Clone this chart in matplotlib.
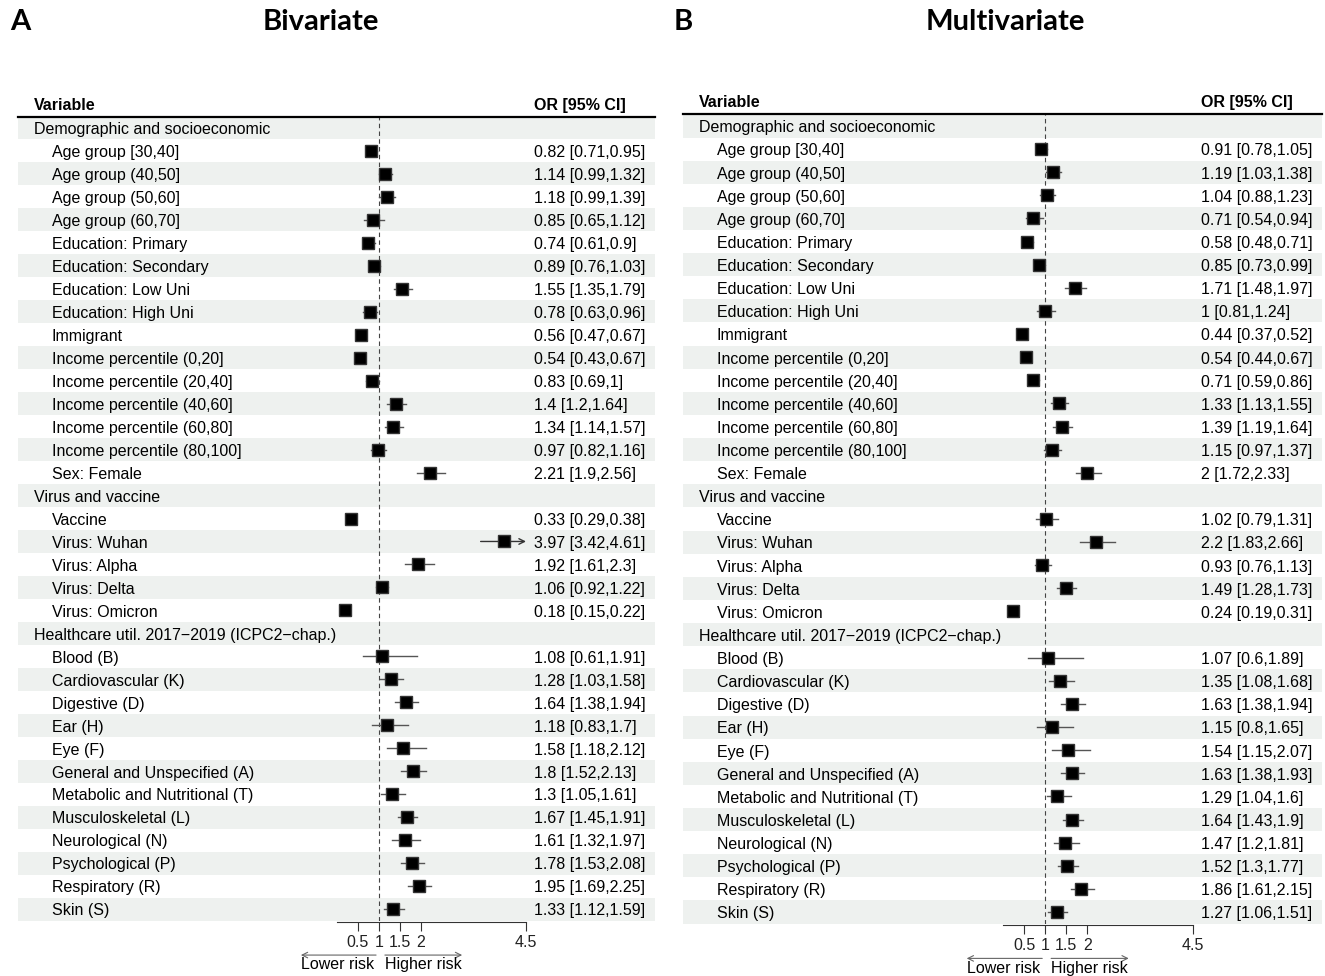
import matplotlib.pyplot as plt
import matplotlib.transforms as mtransforms

# groups and variables (table rows)
groups = ['Demographic and socioeconomic', 'Virus and vaccine',
          'Healthcare util. 2017\u22122019 (ICPC2\u2212chap.)']
group_sizes = [15, 5, 12]
variables = ['Age group [30,40]', 'Age group (40,50]', 'Age group (50,60]', 'Age group (60,70]',
             'Education: Primary', 'Education: Secondary', 'Education: Low Uni', 'Education: High Uni',
             'Immigrant', 'Income percentile (0,20]', 'Income percentile (20,40]',
             'Income percentile (40,60]', 'Income percentile (60,80]', 'Income percentile (80,100]',
             'Sex: Female',
             'Vaccine', 'Virus: Wuhan', 'Virus: Alpha', 'Virus: Delta', 'Virus: Omicron',
             'Blood (B)', 'Cardiovascular (K)', 'Digestive (D)', 'Ear (H)', 'Eye (F)',
             'General and Unspecified (A)', 'Metabolic and Nutritional (T)', 'Musculoskeletal (L)',
             'Neurological (N)', 'Psychological (P)', 'Respiratory (R)', 'Skin (S)']

# bivariate odds ratios
bi_or = [0.82, 1.14, 1.18, 0.85, 0.74, 0.89, 1.55, 0.78, 0.56, 0.54, 0.83, 1.4, 1.34, 0.97, 2.21,
         0.33, 3.97, 1.92, 1.06, 0.18,
         1.08, 1.28, 1.64, 1.18, 1.58, 1.8, 1.3, 1.67, 1.61, 1.78, 1.95, 1.33]
bi_lo = [0.71, 0.99, 0.99, 0.65, 0.61, 0.76, 1.35, 0.63, 0.47, 0.43, 0.69, 1.2, 1.14, 0.82, 1.9,
         0.29, 3.42, 1.61, 0.92, 0.15,
         0.61, 1.03, 1.38, 0.83, 1.18, 1.52, 1.05, 1.45, 1.32, 1.53, 1.69, 1.12]
bi_hi = [0.95, 1.32, 1.39, 1.12, 0.9, 1.03, 1.79, 0.96, 0.67, 0.67, 1, 1.64, 1.57, 1.16, 2.56,
         0.38, 4.61, 2.3, 1.22, 0.22,
         1.91, 1.58, 1.94, 1.7, 2.12, 2.13, 1.61, 1.91, 1.97, 2.08, 2.25, 1.59]

# multivariate odds ratios
mv_or = [0.91, 1.19, 1.04, 0.71, 0.58, 0.85, 1.71, 1, 0.44, 0.54, 0.71, 1.33, 1.39, 1.15, 2,
         1.02, 2.2, 0.93, 1.49, 0.24,
         1.07, 1.35, 1.63, 1.15, 1.54, 1.63, 1.29, 1.64, 1.47, 1.52, 1.86, 1.27]
mv_lo = [0.78, 1.03, 0.88, 0.54, 0.48, 0.73, 1.48, 0.81, 0.37, 0.44, 0.59, 1.13, 1.19, 0.97, 1.72,
         0.79, 1.83, 0.76, 1.28, 0.19,
         0.6, 1.08, 1.38, 0.8, 1.15, 1.38, 1.04, 1.43, 1.2, 1.3, 1.61, 1.06]
mv_hi = [1.05, 1.38, 1.23, 0.94, 0.71, 0.99, 1.97, 1.24, 0.52, 0.67, 0.86, 1.55, 1.64, 1.37, 2.33,
         1.31, 2.66, 1.13, 1.73, 0.31,
         1.89, 1.68, 1.94, 1.65, 2.07, 1.93, 1.6, 1.9, 1.81, 1.77, 2.15, 1.51]

xticks = [0.5, 1, 1.5, 2, 4.5]
xmax = 4.5

plt.rcParams['font.family'] = ['Liberation Sans', 'DejaVu Sans']
W, H = 1325, 976
fig = plt.figure(figsize=(W / 100, H / 100), dpi=100)
stripe = '#eef1ef'
dy = 0.08  # small nudge so text sits like the original


def fmt(v):
    return f"{v:g}"


def panel(left, right, top, bottom, zero, scale, est, lo, hi):
    ax = fig.add_axes([left / W, 1 - bottom / H, (right - left) / W, (bottom - top) / H])
    nrows = len(groups) + len(variables)
    ax.set_xlim((left - zero) / scale, (right - zero) / scale)
    ax.set_ylim(nrows - 0.5, -0.5)
    blend = mtransforms.blended_transform_factory(ax.transAxes, ax.transData)

    for r in range(0, nrows, 2):
        ax.axhspan(r - 0.5, r + 0.5, color=stripe, lw=0, zorder=0)

    row = 0
    k = 0
    for g, size in zip(groups, group_sizes):
        ax.text(0.0245, row + dy, g, transform=blend, va='center', ha='left', fontsize=11.5)
        row += 1
        for _ in range(size):
            ax.text(0.053, row + dy, variables[k], transform=blend, va='center', ha='left', fontsize=11.5)
            ax.text(0.81, row + dy, f"{fmt(est[k])} [{fmt(lo[k])},{fmt(hi[k])}]", transform=blend,
                    va='center', ha='left', fontsize=11.5)
            if hi[k] > xmax:
                ax.annotate('', xy=(xmax, row), xytext=(lo[k], row),
                            arrowprops=dict(arrowstyle='->', color='#333333', lw=1.0,
                                            shrinkA=0, shrinkB=0), zorder=2)
            else:
                ax.plot([lo[k], hi[k]], [row, row], color='#555555', lw=1.0, zorder=2)
            ax.plot(est[k], row, marker='s', ms=9, color='black', mec='#333333', zorder=3)
            row += 1
            k += 1

    ax.axvline(1, color='#444444', lw=0.8, ls=(0, (4, 3)), zorder=1)

    # header
    ax.text(0.0245, -1.0, 'Variable', transform=blend, va='center', ha='left',
            fontsize=11.5, fontweight='bold')
    ax.text(0.81, -1.0, 'OR [95% CI]', transform=blend, va='center', ha='left',
            fontsize=11.5, fontweight='bold')
    ax.axhline(-0.5, color='black', lw=1.6, clip_on=False)

    # x axis
    for s in ['top', 'right', 'left']:
        ax.spines[s].set_visible(False)
    ax.spines['bottom'].set_bounds(0, xmax)
    ax.spines['bottom'].set_position(('outward', 1))
    ax.spines['bottom'].set_color('#333333')
    ax.set_yticks([])
    ax.set_xticks(xticks)
    ax.set_xticklabels([fmt(t) for t in xticks])
    ax.tick_params(axis='x', length=6.5, width=0.8, color='#333333', labelsize=11.5,
                   labelcolor='#222222', pad=3)

    # risk arrows
    ax.annotate('', xy=(-0.86, -0.043), xytext=(0.93, -0.043),
                xycoords=('data', 'axes fraction'), textcoords=('data', 'axes fraction'),
                arrowprops=dict(arrowstyle='->', color='#666666', lw=0.8, shrinkA=0, shrinkB=0))
    ax.annotate('', xy=(2.98, -0.043), xytext=(1.14, -0.043),
                xycoords=('data', 'axes fraction'), textcoords=('data', 'axes fraction'),
                arrowprops=dict(arrowstyle='->', color='#666666', lw=0.8, shrinkA=0, shrinkB=0))
    lower = mtransforms.blended_transform_factory(ax.transData, ax.transAxes)
    ax.text(0.02, -0.055, 'Lower risk', transform=lower, ha='center', va='center', fontsize=11.5)
    ax.text(2.05, -0.055, 'Higher risk', transform=lower, ha='center', va='center', fontsize=11.5)
    return ax


panel(18, 655, 116.5, 920.5, 337, 42.0, bi_or, bi_lo, bi_hi)
panel(683, 1322, 114.4, 923.6, 1003, 42.2, mv_or, mv_lo, mv_hi)

title_font = dict(family=['Lato', 'DejaVu Sans'], fontweight='bold', fontsize=21, va='center')
fig.text(20 / W, 1 - 22 / H, 'A', ha='center', **title_font)
fig.text(321 / W, 1 - 22 / H, 'Bivariate', ha='center', **title_font)
fig.text(683 / W, 1 - 22 / H, 'B', ha='center', **title_font)
fig.text(1005 / W, 1 - 22 / H, 'Multivariate', ha='center', **title_font)

fig.savefig('out.png', dpi=100, facecolor='white')
